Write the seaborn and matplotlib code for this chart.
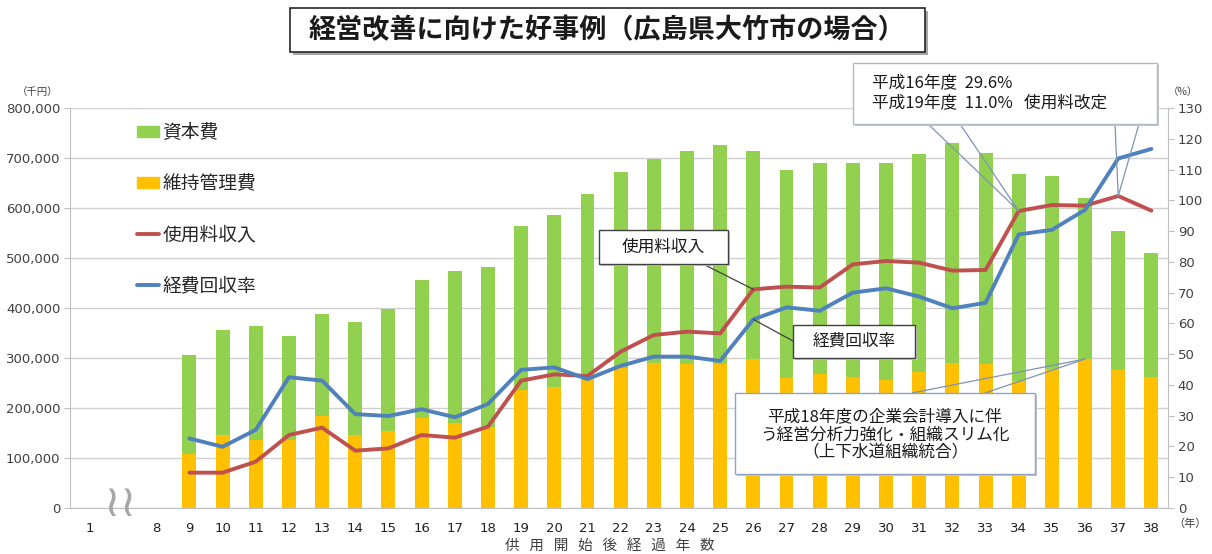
import numpy as np
import pandas as pd
import seaborn as sns
import matplotlib.pyplot as plt
from matplotlib.patches import Rectangle
from matplotlib.lines import Line2D
from matplotlib.patches import Patch

# --- data ---
cats = ['1', '', '8'] + [str(i) for i in range(9, 39)]
years = [str(i) for i in range(9, 39)]

# 維持管理費 / 資本費 [千円]
maint = [109000, 146000, 137000, 136000, 185000, 147000, 154000, 181000, 171000, 163000,
         237000, 243000, 268000, 281000, 291000, 289000, 289000, 299000, 261000, 269000,
         263000, 256000, 273000, 291000, 289000, 255000, 279000, 298000, 277000, 263000]
capital = [197000, 210000, 228000, 209000, 203000, 226000, 244000, 276000, 304000, 320000,
           328000, 344000, 361000, 392000, 408000, 426000, 438000, 416000, 415000, 422000,
           428000, 435000, 436000, 439000, 422000, 414000, 386000, 323000, 278000, 248000]
# 使用料収入 [千円]
fee_income = [70700, 70700, 92700, 146000, 160700, 114700, 119300, 146000, 140700, 162700,
              254700, 267300, 264000, 312700, 346000, 352700, 349300, 437300, 442700, 441000,
              487300, 494000, 490700, 474700, 476000, 594000, 606000, 604700, 624000, 594700]
# 経費回収率 [%]
recovery = [22.6, 19.9, 25.4, 42.5, 41.4, 30.5, 29.9, 32.1, 29.5, 33.8,
            44.9, 45.7, 41.9, 46.2, 49.2, 49.2, 47.8, 61.3, 65.2, 64.1,
            70.0, 71.4, 68.7, 64.9, 66.7, 88.9, 90.4, 96.9, 113.6, 116.7]

left_ticks = np.arange(0, 800001, 100000)
right_ticks = np.arange(0, 131, 10)

df = pd.DataFrame({'year': years, 'maint': maint, 'capital': capital,
                   'fee': fee_income, 'rate': recovery})
df['total'] = df['maint'] + df['capital']
df['pos'] = [cats.index(y) for y in years]

GREEN = '#92D050'
ORANGE = '#FFC000'
RED = '#C0504D'
BLUE = '#4F81BD'
TXT = '#404040'

W, H = 1212, 554
sns.set_style('white')
plt.rcParams['font.family'] = ['Noto Sans CJK JP', 'DejaVu Sans']

fig = plt.figure(figsize=(W / 100, H / 100), dpi=100)
ax = fig.add_axes([70 / W, 1 - 508 / H, 1098 / W, 400 / H])


def fx(x):
    return x / W


def fy(y):
    return 1 - y / H


# stacked bars
sns.barplot(data=df, x='year', y='total', order=cats, color=GREEN, width=0.42,
            saturation=1, linewidth=0, edgecolor='none', ax=ax, zorder=2)
sns.barplot(data=df, x='year', y='maint', order=cats, color=ORANGE, width=0.42,
            saturation=1, linewidth=0, edgecolor='none', ax=ax, zorder=3)

# fee income line (left axis)
sns.lineplot(x=df['pos'], y=df['fee'], color=RED, lw=2.8, ax=ax, zorder=4)

ax.set_ylim(0, 800000)
ax.set_xlim(-0.6, 32.37)
ax.set_yticks(left_ticks)
ax.set_yticklabels([f'{v:,}' for v in left_ticks], color=TXT, fontsize=9.5,
                   family=['DejaVu Sans'])
ax.set_xticks(range(len(cats)))
ax.set_xticklabels(cats, color='#202020', fontsize=9.5, family=['DejaVu Sans'])
ax.set_xticks(np.arange(-0.5, len(cats)), minor=True)
ax.tick_params(axis='x', which='major', length=0, pad=10)
ax.tick_params(axis='x', which='minor', length=4, color='#bfbfbf')
ax.tick_params(axis='y', length=4, color='#bfbfbf', pad=3)
ax.set_xlabel('')
ax.set_ylabel('')
ax.grid(axis='y', color='#d0d0d0', lw=1)
ax.set_axisbelow(True)
for s in ['top', 'right']:
    ax.spines[s].set_visible(False)
for s in ['left', 'bottom']:
    ax.spines[s].set_color('#bfbfbf')

# recovery rate line (right axis)
ax2 = ax.twinx()
sns.lineplot(x=df['pos'], y=df['rate'], color=BLUE, lw=2.8, ax=ax2, zorder=5)
ax2.set_ylim(0, 130)
ax2.set_yticks(right_ticks)
ax2.set_yticklabels([str(v) for v in right_ticks], color=TXT, fontsize=9.5,
                    family=['DejaVu Sans'])
ax2.tick_params(axis='y', length=4, color='#bfbfbf', pad=3)
ax2.set_ylabel('')
for s in ['top', 'left', 'bottom']:
    ax2.spines[s].set_visible(False)
ax2.spines['right'].set_color('#bfbfbf')

# legend
handles = [Patch(color=GREEN), Patch(color=ORANGE),
           Line2D([], [], color=RED, lw=2.8), Line2D([], [], color=BLUE, lw=2.8)]
labels = ['資本費', '維持管理費', '使用料収入', '経費回収率']
leg = ax.legend(handles, labels, loc='upper left', bbox_to_anchor=(0.061, 0.965),
                frameon=False, fontsize=13.5, labelspacing=1.6, handlelength=1.15,
                handleheight=0.55, handletextpad=0.2, borderpad=0, borderaxespad=0)
leg.set_zorder(10)

# axis unit labels
fig.text(fx(38), fy(92), '（千円）', fontsize=7.5, color=TXT, ha='center', va='center')
fig.text(fx(1183), fy(92), '（%）', fontsize=7.5, color=TXT, ha='center', va='center')
fig.text(fx(1190), fy(524), '（年）', fontsize=8, color=TXT, ha='center', va='center')
fig.text(fx(610), fy(546), '供   用   開   始   後   経   過   年   数', fontsize=10.5,
         color=TXT, ha='center', va='center')
# axis break mark
fig.text(fx(120), fy(503), '≀≀', fontsize=32, color='#a6a6a6', ha='center', va='center',
         family=['DejaVu Sans'])

# title box with shadow
fig.patches.append(Rectangle((fx(293), fy(55)), fx(635), 44 / H, transform=fig.transFigure,
                             facecolor='#a6a6a6', edgecolor='none', zorder=5))
fig.patches.append(Rectangle((fx(290), fy(52)), fx(635), 44 / H, transform=fig.transFigure,
                             facecolor='white', edgecolor='#262626', lw=1.2, zorder=6))
fig.text(fx(607), fy(30), '経営改善に向けた好事例（広島県大竹市の場合）', fontsize=19.5,
         fontweight='bold', ha='center', va='center', color='#1a1a1a', zorder=7)


def callout_box(x0, y0, x1, y1, edge, shadow=True):
    if shadow:
        fig.patches.append(Rectangle((fx(x0 + 2), fy(y1 + 2)), fx(x1 - x0), (y1 - y0) / H,
                                     transform=fig.transFigure, facecolor='#c8c8c8',
                                     edgecolor='none', zorder=5))
    fig.patches.append(Rectangle((fx(x0), fy(y1)), fx(x1 - x0), (y1 - y0) / H,
                                 transform=fig.transFigure, facecolor='white',
                                 edgecolor=edge, lw=1.0, zorder=6))


def leader(axis, xy, base, color):
    axis.annotate('', xy=xy, xytext=(base[0], H - base[1]), textcoords='figure pixels',
                  arrowprops=dict(arrowstyle='-', color=color, lw=0.9,
                                  shrinkA=0, shrinkB=0), zorder=8)


i34, i36, i37, i26 = years.index('34'), years.index('36'), years.index('37'), years.index('26')

# fee revision callout
WEDGE1 = '#7f93b2'
leader(ax2, (df['pos'][i34], fee_income[i34] / 800000 * 130), (928, 124), WEDGE1)
leader(ax2, (df['pos'][i34], fee_income[i34] / 800000 * 130), (960, 124), WEDGE1)
leader(ax2, (df['pos'][i37], fee_income[i37] / 800000 * 130), (1115, 124), WEDGE1)
leader(ax2, (df['pos'][i37], fee_income[i37] / 800000 * 130), (1139, 124), WEDGE1)
callout_box(853, 63, 1157, 124, '#b0b8c8')
fig.text(fx(872), fy(93), '平成16年度  29.6%\n平成19年度  11.0%   使用料改定', fontsize=12,
         ha='left', va='center', color='#1a1a1a', linespacing=1.2, zorder=7)

# accounting callout
leader(ax, (df['pos'][i36], maint[i36]), (912, 393), WEDGE1)
leader(ax, (df['pos'][i36], maint[i36]), (985, 393), WEDGE1)
callout_box(735, 393, 1035, 474, '#8ea3c4')
fig.text(fx(885), fy(435), '平成18年度の企業会計導入に伴\nう経営分析力強化・組織スリム化\n（上下水道組織統合）',
         fontsize=12, ha='center', va='center', color='#1a1a1a', linespacing=1.1, zorder=7)

# line labels
leader(ax, (df['pos'][i26], fee_income[i26]), (703, 264), '#404040')
callout_box(599, 230, 728, 264, '#404040')
fig.text(fx(663), fy(247), '使用料収入', fontsize=12, ha='center', va='center',
         color='#1a1a1a', zorder=7)

leader(ax2, (df['pos'][i26], recovery[i26]), (793, 341), '#404040')
callout_box(793, 325, 915, 358, '#404040')
fig.text(fx(854), fy(341), '経費回収率', fontsize=12, ha='center', va='center',
         color='#1a1a1a', zorder=7)

fig.savefig('out.png', dpi=100)
